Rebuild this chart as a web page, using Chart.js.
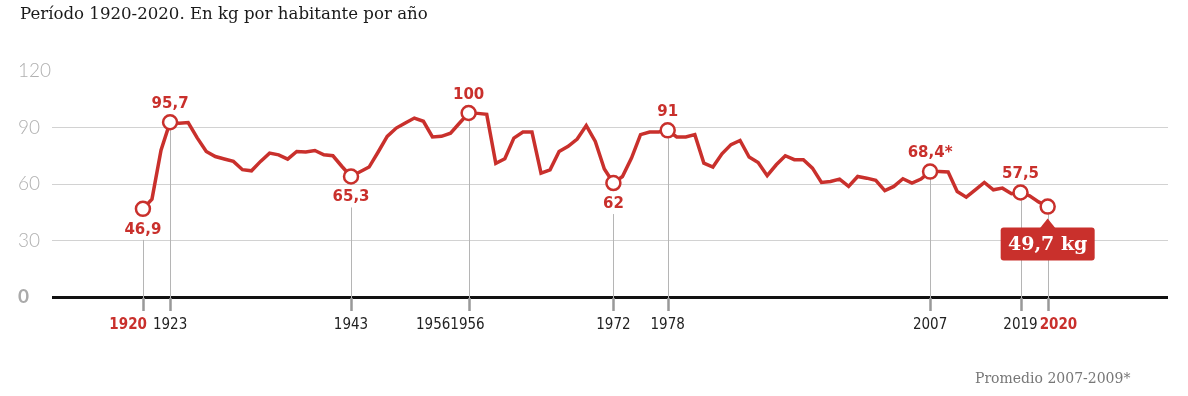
<!DOCTYPE html>
<html>
<head>
<meta charset="utf-8">
<script src="https://cdn.jsdelivr.net/npm/chart.js@4.4.1/dist/chart.umd.min.js"></script>
<style>
  html, body { margin: 0; padding: 0; background: #fff; }
  #wrap { width: 1188px; height: 396px; position: relative; }
</style>
</head>
<body>
<div id="wrap"><canvas id="myChart" width="1188" height="396"></canvas></div>
<script>
// DATA //
const years = [
  1920, 1921, 1922, 1923, 1924, 1925, 1926, 1927, 1928, 1929,
  1930, 1931, 1932, 1933, 1934, 1935, 1936, 1937, 1938, 1939,
  1940, 1941, 1942, 1943, 1944, 1945, 1946, 1947, 1948, 1949,
  1950, 1951, 1952, 1953, 1954, 1955, 1956, 1957, 1958, 1959,
  1960, 1961, 1962, 1963, 1964, 1965, 1966, 1967, 1968, 1969,
  1970, 1971, 1972, 1973, 1974, 1975, 1976, 1977, 1978, 1979,
  1980, 1981, 1982, 1983, 1984, 1985, 1986, 1987, 1988, 1989,
  1990, 1991, 1992, 1993, 1994, 1995, 1996, 1997, 1998, 1999,
  2000, 2001, 2002, 2003, 2004, 2005, 2006, 2007, 2008, 2009,
  2010, 2011, 2012, 2013, 2014, 2015, 2016, 2017, 2018, 2019,
  2020
];
const kgPerPerson = [
  46.8, 52, 78, 92.8, 92.3, 92.6, 84.5, 77.3, 74.6, 73.3,
  72, 67.6, 67, 72, 76.4, 75.5, 73.2, 77.3, 77, 77.8,
  75.5, 75, 69.3, 64, 66.5, 69, 77, 85.3, 89.7, 92.4,
  95, 93.3, 85, 85.3, 87, 92.4, 97.7, 97.5, 97, 71,
  73.4, 84.4, 87.6, 87.6, 65.8, 67.5, 77.3, 80, 83.9, 91,
  82.6, 68, 60.5, 64, 73.8, 86.2, 87.6, 87.6, 88.5, 85,
  85, 86.2, 71.1, 69, 76, 80.9, 83.1, 74.3, 71.4, 64.4,
  70.2, 75, 72.9, 72.9, 68.4, 60.8, 61.3, 62.6, 58.7, 64,
  63.1, 61.9, 56.5, 58.7, 62.8, 60.5, 62.6, 66.6, 66.6, 66.4,
  56, 53, 56.9, 60.8, 56.9, 57.8, 54.8, 55.5, 53.7, 50.5,
  48
];
const yTicks = [0, 30, 60, 90, 120];
const markYears  = [1920, 1923, 1943, 1956, 1972, 1978, 2007, 2017, 2020];
const markLabels = ['46,9', '95,7', '65,3', '100', '62', '91', '68,4*', '57,5', '49,7 kg'];
const axisLabels = ['1920', '1923', '1943', '19561956', '1972', '1978', '2007', '2019', '2020'];

const titleText = 'Período 1920-2020. En kg por habitante por año';
const noteText = 'Promedio 2007-2009*';

// STYLE //
const RED = '#c9302c';
const markPlace = ['below', 'above', 'below', 'above', 'below', 'above', 'above', 'above', 'box'];
const axisLabelStyle = {
  0: { align: 'right', dx: 4, strong: true },
  3: { align: 'right', dx: 16 },
  8: { align: 'left', dx: -8, strong: true }
};

const annotations = {
  id: 'annotations',
  beforeDatasetsDraw(chart) {
    const ctx = chart.ctx;
    const xs = chart.scales.x, ys = chart.scales.y;
    ctx.save();
    markYears.forEach(function(yr, i) {
      const x = Math.round(xs.getPixelForValue(yr)) + 0.5;
      const y = ys.getPixelForValue(kgPerPerson[years.indexOf(yr)]);
      const top = markPlace[i] === 'below' ? y + 31 : y;
      ctx.strokeStyle = '#b5b5b5';
      ctx.lineWidth = 1;
      ctx.beginPath(); ctx.moveTo(x, top); ctx.lineTo(x, 298); ctx.stroke();
      ctx.strokeStyle = '#999';
      ctx.lineWidth = 2.5;
      ctx.beginPath(); ctx.moveTo(x, 298); ctx.lineTo(x, 311); ctx.stroke();
    });
    ctx.restore();
  },
  afterDatasetsDraw(chart) {
    const ctx = chart.ctx;
    const xs = chart.scales.x, ys = chart.scales.y;
    ctx.save();
    markYears.forEach(function(yr, i) {
      const x = xs.getPixelForValue(yr);
      const y = ys.getPixelForValue(kgPerPerson[years.indexOf(yr)]);
      ctx.beginPath();
      ctx.arc(x, y, 7, 0, Math.PI * 2);
      ctx.fillStyle = '#fff';
      ctx.fill();
      ctx.lineWidth = 2.5;
      ctx.strokeStyle = RED;
      ctx.stroke();

      ctx.textAlign = 'center';
      ctx.textBaseline = 'middle';
      if (markPlace[i] === 'box') {
        const bw = 94, bh = 33, bt = y + 21;
        ctx.fillStyle = RED;
        ctx.beginPath();
        ctx.roundRect(x - bw / 2, bt, bw, bh, 3);
        ctx.fill();
        ctx.beginPath();
        ctx.moveTo(x - 8, bt + 1); ctx.lineTo(x, bt - 9); ctx.lineTo(x + 8, bt + 1);
        ctx.fill();
        ctx.fillStyle = '#fff';
        ctx.font = "bold 19px 'DejaVu Serif', serif";
        ctx.fillText(markLabels[i], x, bt + bh / 2 + 1);
      } else {
        ctx.fillStyle = RED;
        ctx.font = "bold 15px 'DejaVu Sans', sans-serif";
        const ty = markPlace[i] === 'below' ? y + 21 : y - 18;
        ctx.fillText(markLabels[i], x, ty);
      }
    });

    // x labels
    ctx.textBaseline = 'middle';
    axisLabels.forEach(function(lbl, i) {
      const st = axisLabelStyle[i] || {};
      const x = xs.getPixelForValue(markYears[i]) + (st.dx || 0);
      ctx.textAlign = st.align || 'center';
      if (st.strong) {
        ctx.fillStyle = RED;
        ctx.font = "bold 15px 'Liberation Sans Narrow', 'DejaVu Sans Condensed', Roboto, sans-serif";
      } else {
        ctx.fillStyle = '#222';
        ctx.font = "15px 'Liberation Sans Narrow', 'DejaVu Sans Condensed', Roboto, sans-serif";
      }
      ctx.fillText(lbl, x, 325);
    });

    // title + note
    ctx.textAlign = 'left';
    ctx.textBaseline = 'alphabetic';
    ctx.fillStyle = '#1a1a1a';
    ctx.font = "16.6px 'DejaVu Serif', serif";
    ctx.fillText(titleText, 20, 19);
    ctx.fillStyle = '#777';
    ctx.font = "14px 'DejaVu Serif', serif";
    ctx.fillText(noteText, 975, 383);
    ctx.restore();
  }
};

new Chart(document.getElementById('myChart'), {
  type: 'line',
  data: {
    datasets: [{
      data: years.map(function(yr, i) { return { x: yr, y: kgPerPerson[i] }; }),
      borderColor: RED,
      borderWidth: 3.5,
      pointRadius: 0,
      tension: 0,
      fill: false,
      clip: false
    }]
  },
  options: {
    responsive: false,
    animation: false,
    devicePixelRatio: 1,
    layout: { padding: { left: 18, right: 20, top: 71, bottom: 99 } },
    plugins: { legend: { display: false }, tooltip: { enabled: false } },
    scales: {
      x: {
        type: 'linear',
        display: false,
        min: 1909.95,
        max: 2033.3
      },
      y: {
        min: 0,
        max: 120,
        afterFit: function(s) { s.width = 34; },
        afterBuildTicks: function(s) { s.ticks = yTicks.map(function(v) { return { value: v }; }); },
        border: { display: false },
        grid: {
          drawTicks: false,
          color: function(c) {
            if (c.tick.value === 0) return '#111';
            if (c.tick.value === 120) return 'rgba(0,0,0,0)';
            return '#d2d2d2';
          },
          lineWidth: function(c) { return c.tick.value === 0 ? 3 : 1; }
        },
        ticks: {
          crossAlign: 'far',
          color: function(c) { return c.tick.value === 0 ? '#aaa' : '#b0b0b0'; },
          font: function(c) {
            return c.tick && c.tick.value === 0
              ? { family: 'Lato', size: 19, weight: 'bold' }
              : { family: 'Lato', size: 19, weight: '300' };
          }
        }
      }
    }
  },
  plugins: [annotations]
});
</script>
</body>
</html>
